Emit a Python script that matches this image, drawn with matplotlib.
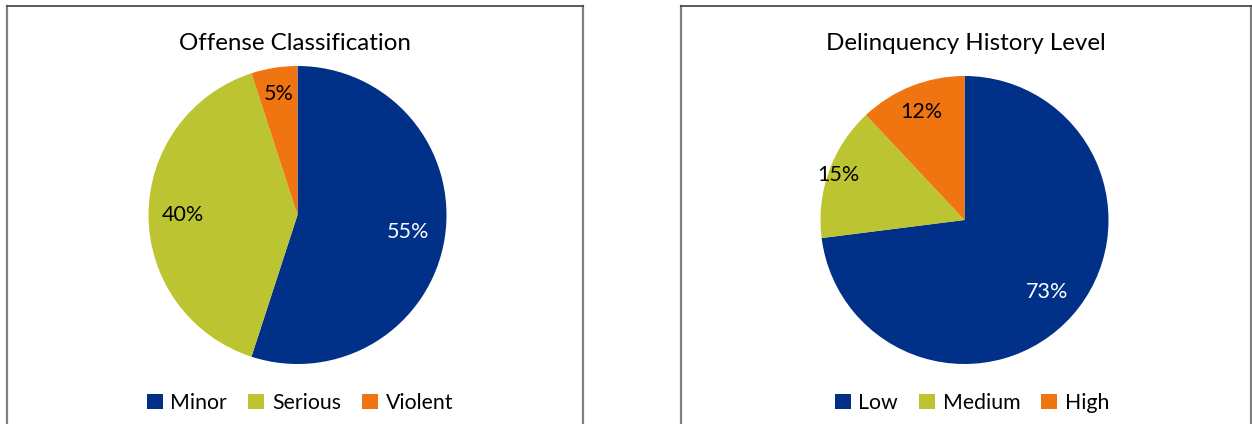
import matplotlib
matplotlib.use("Agg")
import matplotlib.pyplot as plt
import numpy as np
from matplotlib.lines import Line2D

plt.rcParams['font.family'] = ['Lato', 'DejaVu Sans']

# Data
left_title = "Offense Classification"
left_labels = ["Minor", "Serious", "Violent"]
left_values = [55, 40, 5]

right_title = "Delinquency History Level"
right_labels = ["Low", "Medium", "High"]
right_values = [73, 15, 12]

colors = ["#003087", "#BCC531", "#F07511"]
text_colors = ["white", "black", "black"]

W, H = 1252, 424
fig = plt.figure(figsize=(W / 100, H / 100), dpi=100)

def px_axes(x0, y0, x1, y1):
    # pixel coords top-left origin
    return fig.add_axes([x0 / W, 1 - y1 / H, (x1 - x0) / W, (y1 - y0) / H])

def frame(x0, x1, y0):
    fig.add_artist(Line2D([x0 / W, x0 / W], [0, 1 - y0 / H], color="#808080", lw=1.6, transform=fig.transFigure))
    fig.add_artist(Line2D([x1 / W, x1 / W], [0, 1 - y0 / H], color="#808080", lw=1.6, transform=fig.transFigure))
    fig.add_artist(Line2D([x0 / W, x1 / W], [1 - y0 / H, 1 - y0 / H], color="#404040", lw=1.2, transform=fig.transFigure))

def draw_pie(bbox, values, labels, dists, title, title_xy, legend_xy):
    ax = px_axes(*bbox)
    wedges, _, autotexts = ax.pie(values, colors=colors, startangle=90, counterclock=False,
                                  autopct=lambda p: f"{p:.0f}%", pctdistance=0.78,
                                  textprops=dict(fontsize=15.5), radius=1.0)
    ax.set_xlim(-1, 1)
    ax.set_ylim(-1, 1)
    for w, t, d, c in zip(wedges, autotexts, dists, text_colors):
        ang = np.deg2rad((w.theta1 + w.theta2) / 2)
        t.set_position((d * np.cos(ang), d * np.sin(ang)))
        t.set_color(c)
    fig.text(title_xy[0] / W, 1 - title_xy[1] / H, title, ha="center", va="center", fontsize=17.4)
    fig.legend(wedges, labels, loc="center", bbox_to_anchor=(legend_xy[0] / W, 1 - legend_xy[1] / H),
               ncol=3, frameon=False, fontsize=15.3, handlelength=0.75, handleheight=0.75,
               handletextpad=0.35, columnspacing=1.0, borderaxespad=0, borderpad=0)

frame(6.5, 582.5, 5.5)
frame(681, 1250.5, 5.5)

draw_pie((148, 66, 447, 364), left_values, left_labels, [0.75, 0.77, 0.82], left_title, (295, 43), (300, 403))
draw_pie((820, 76, 1109, 364), right_values, right_labels, [0.76, 0.93, 0.81], right_title, (966, 43), (972, 403))

fig.savefig("out.png", dpi=100)
